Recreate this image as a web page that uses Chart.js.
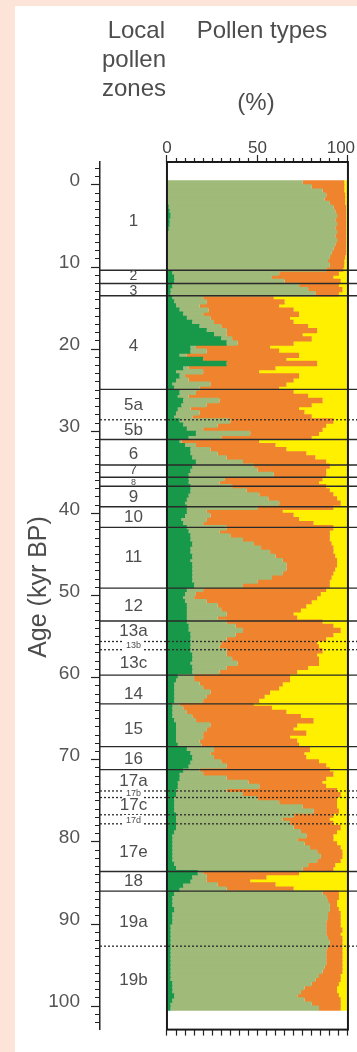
<!DOCTYPE html>
<html>
<head>
<meta charset="utf-8">
<script src="https://cdn.jsdelivr.net/npm/chart.js"></script>
<style>
  html, body { margin: 0; padding: 0; }
  body { background: #fce4d9; width: 357px; height: 1052px; position: relative; overflow: hidden; }
  #panel { position: absolute; left: 15px; top: 6px; right: 0; bottom: 0; background: #fff; }
  #chart { position: absolute; left: 0; top: 0; }
</style>
</head>
<body>
<div id="panel"></div>
<canvas id="chart" width="357" height="1052"></canvas>
<script>
// sample ages (kyr BP), one every 0.5 kyr
const ages = [
  0.25, 0.75, 1.25, 1.75, 2.25, 2.75, 3.25, 3.75, 4.25, 4.75,
  5.25, 5.75, 6.25, 6.75, 7.25, 7.75, 8.25, 8.75, 9.25, 9.75,
  10.25, 10.75, 11.25, 11.75, 12.25, 12.75, 13.25, 13.75, 14.25, 14.75,
  15.25, 15.75, 16.25, 16.75, 17.25, 17.75, 18.25, 18.75, 19.25, 19.75,
  20.25, 20.75, 21.25, 21.75, 22.25, 22.75, 23.25, 23.75, 24.25, 24.75,
  25.25, 25.75, 26.25, 26.75, 27.25, 27.75, 28.25, 28.75, 29.25, 29.75,
  30.25, 30.75, 31.25, 31.75, 32.25, 32.75, 33.25, 33.75, 34.25, 34.75,
  35.25, 35.75, 36.25, 36.75, 37.25, 37.75, 38.25, 38.75, 39.25, 39.75,
  40.25, 40.75, 41.25, 41.75, 42.25, 42.75, 43.25, 43.75, 44.25, 44.75,
  45.25, 45.75, 46.25, 46.75, 47.25, 47.75, 48.25, 48.75, 49.25, 49.75,
  50.25, 50.75, 51.25, 51.75, 52.25, 52.75, 53.25, 53.75, 54.25, 54.75,
  55.25, 55.75, 56.25, 56.75, 57.25, 57.75, 58.25, 58.75, 59.25, 59.75,
  60.25, 60.75, 61.25, 61.75, 62.25, 62.75, 63.25, 63.75, 64.25, 64.75,
  65.25, 65.75, 66.25, 66.75, 67.25, 67.75, 68.25, 68.75, 69.25, 69.75,
  70.25, 70.75, 71.25, 71.75, 72.25, 72.75, 73.25, 73.75, 74.25, 74.75,
  75.25, 75.75, 76.25, 76.75, 77.25, 77.75, 78.25, 78.75, 79.25, 79.75,
  80.25, 80.75, 81.25, 81.75, 82.25, 82.75, 83.25, 83.75, 84.25, 84.75,
  85.25, 85.75, 86.25, 86.75, 87.25, 87.75, 88.25, 88.75, 89.25, 89.75,
  90.25, 90.75, 91.25, 91.75, 92.25, 92.75, 93.25, 93.75, 94.25, 94.75,
  95.25, 95.75, 96.25, 96.75, 97.25, 97.75, 98.25, 98.75, 99.25, 99.75,
  100.25, 100.75
];

// cumulative pollen percentages: right edge of each coloured band
const darkEdge = [
  0.5, 0.5, 0.5, 0.5, 0.5, 0.5, 1, 1.5, 2, 1.5,
  1.5, 1, 0.5, 0.5, 0.5, 0.5, 0.5, 0.5, 0.5, 0.5,
  0.5, 0.5, 3, 4, 4, 3, 2, 2, 3, 4,
  5, 7, 9, 11, 14, 18, 22, 26, 30, 33,
  13, 13, 7, 20, 33, 9, 5, 7, 5, 3,
  4, 7, 6, 9, 8, 6, 5, 4, 7, 9,
  11, 16, 12, 7, 10, 13, 13, 14, 16, 14,
  13, 12, 12, 12, 13, 13, 12, 11, 10, 11,
  11, 10, 8, 9, 11, 12, 13, 13, 14, 13,
  13, 14, 13, 14, 14, 14, 14, 14, 15, 11,
  10, 9, 10, 11, 11, 11, 11, 11, 12, 12,
  13, 13, 13, 13, 13, 14, 14, 13, 14, 14,
  6, 5, 4, 4, 4, 4, 4, 3, 3, 3,
  3, 4, 5, 5, 5, 5, 5, 6, 11, 13,
  14, 13, 12, 9, 7, 7, 6, 6, 5, 5,
  4, 4, 4, 4, 5, 5, 5, 5, 4, 3,
  3, 3, 3, 3, 3, 3, 4, 5, 17, 14,
  13, 9, 7, 4, 3, 3, 3, 4, 3, 3,
  3, 2, 2, 2, 2, 2, 2, 2, 2, 2,
  2, 2, 2, 2, 2, 3, 3, 3, 4, 3,
  2, 2
];
const sageEdge = [
  75, 80, 86, 88, 87, 90, 92, 93, 94, 93,
  94, 93, 94, 93, 94, 93, 92, 91, 90, 89,
  90, 88, 62, 58, 65, 73, 78, 82, 20, 22,
  18, 23, 20, 24, 26, 30, 33, 33, 36, 39,
  16, 22, 11, 20, 33, 12, 20, 10, 12, 24,
  18, 16, 12, 29, 22, 13, 18, 14, 35, 28,
  20, 46, 30, 8, 16, 24, 28, 33, 42, 48,
  50, 59, 32, 29, 36, 44, 51, 56, 62, 50,
  22, 24, 22, 20, 33, 29, 35, 42, 48, 52,
  57, 60, 64, 66, 66, 64, 58, 50, 42, 20,
  16, 15, 22, 28, 30, 33, 28, 33, 38, 42,
  38, 33, 30, 29, 33, 33, 36, 39, 33, 29,
  15, 15, 18, 20, 24, 22, 20, 7, 9, 11,
  14, 16, 24, 22, 20, 20, 18, 19, 26, 24,
  26, 30, 33, 18, 20, 33, 45, 51, 33, 42,
  50, 62, 75, 81, 70, 64, 68, 70, 74, 77,
  72, 76, 79, 83, 85, 83, 78, 75, 20, 22,
  22, 28, 33, 86, 88, 89, 90, 90, 89, 89,
  88, 88, 88, 88, 89, 90, 89, 88, 88, 88,
  88, 87, 86, 84, 82, 80, 76, 74, 72, 76,
  80, 84
];
const orangeEdge = [
  98, 98, 98, 98.5, 98.5, 98.5, 99, 99, 99, 99,
  99, 99, 99, 99, 99, 99, 99, 99, 98.5, 98,
  98, 97.5, 95, 92, 96, 95, 97, 95, 59, 65,
  62, 70, 73, 68, 70, 78, 83, 75, 80, 70,
  57, 62, 73, 66, 83, 60, 51, 73, 70, 66,
  62, 70, 78, 86, 80, 73, 76, 80, 92, 88,
  86, 84, 80, 51, 60, 66, 77, 82, 88, 90,
  88, 88, 86, 84, 88, 90, 92, 94, 96, 92,
  64, 70, 73, 81, 92, 90, 90, 90, 91, 92,
  92, 93, 94, 94, 93, 92, 91, 90, 90, 88,
  85, 83, 80, 77, 74, 70, 72, 86, 92, 96,
  92, 88, 83, 84, 86, 83, 84, 84, 78, 72,
  68, 68, 64, 62, 57, 54, 51, 48, 58, 66,
  74, 81, 72, 70, 77, 68, 72, 73, 79, 76,
  77, 84, 88, 90, 92, 88, 86, 88, 94, 96,
  94, 94, 94, 95, 92, 90, 92, 96, 94, 92,
  92, 94, 96, 97, 97, 96, 93, 92, 73, 55,
  46, 60, 70, 95, 95, 94, 94, 95, 96, 96,
  96, 96, 97, 96, 97, 97, 97, 97, 97, 97,
  97, 97, 97, 96, 96, 95, 94, 94, 95, 96,
  96, 96
];

// local pollen zones
const zoneBounds = [10.9, 12.5, 14.0, 25.4, 31.5, 34.6, 36.1, 37.2, 39.7, 42.2,
                    49.6, 53.6, 60.2, 63.7, 68.9, 71.7, 84.1, 86.5];
const subZoneBounds = [29.1, 56.1, 57.1, 74.3, 75.1, 77.2, 78.3, 93.2];
const zoneNames = ['1', '2', '3', '4', '5a', '5b', '6', '7', '8', '9', '10', '11', '12',
                   '13a', '13b', '13c', '14', '15', '16', '17a', '17b', '17c', '17d', '17e',
                   '18', '19a', '19b'];
const zoneMids = [4.9, 11.6, 13.4, 20.2, 27.4, 30.4, 33.3, 35.3, 36.7, 38.5, 41.0, 45.8, 51.8,
                  54.8, 56.6, 58.8, 62.5, 66.8, 70.4, 73.1, 74.6, 76.1, 77.9, 81.8,
                  85.3, 90.3, 97.4];

const FONT = '"Liberation Sans", Arial, Helvetica, sans-serif';
const smallZone = { '2': 14, '3': 14, '7': 13, '8': 9, '13b': 9, '17b': 9, '17d': 9 };
const boxedZone = ['13b', '17b', '17d'];

function band(lo, hi) {
  return ages.map((a, i) => ({ y: a, x: [lo[i], hi[i]] }));
}
const hundred = ages.map(() => 100);
const zero = ages.map(() => 0);

const inPanel = c => c.tick && c.tick.value >= 0 && c.tick.value <= 100;

const zonePlugin = {
  id: 'zones',
  afterDatasetsDraw(chart) {
    const { ctx, chartArea: a, scales: { x, y } } = chart;
    ctx.save();
    ctx.strokeStyle = '#2a2a2a';
    ctx.lineWidth = 1.4;
    zoneBounds.forEach(v => {
      const py = y.getPixelForValue(v);
      ctx.beginPath(); ctx.moveTo(a.left, py); ctx.lineTo(a.right, py); ctx.stroke();
    });
    ctx.setLineDash([2, 2]);
    ctx.lineWidth = 1.3;
    subZoneBounds.forEach(v => {
      const py = y.getPixelForValue(v);
      ctx.beginPath(); ctx.moveTo(a.left, py); ctx.lineTo(a.right, py); ctx.stroke();
    });
    ctx.setLineDash([]);

    // frame round the pollen diagram
    const x0 = x.getPixelForValue(0), x1 = x.getPixelForValue(100);
    ctx.strokeStyle = '#1a1a1a';
    ctx.lineWidth = 2;
    ctx.strokeRect(x0, a.top, x1 - x0, a.bottom - a.top);

    // zone labels
    const cx = (a.left + x0) / 2;
    ctx.textAlign = 'center';
    ctx.textBaseline = 'middle';
    zoneNames.forEach((n, i) => {
      const py = y.getPixelForValue(zoneMids[i]);
      const size = smallZone[n] || 17;
      ctx.font = size + 'px ' + FONT;
      if (boxedZone.includes(n)) {
        const w = ctx.measureText(n).width;
        ctx.fillStyle = '#fff';
        ctx.fillRect(cx - w / 2 - 2, py - size / 2 - 1, w + 4, size + 2);
      }
      ctx.fillStyle = '#4d4d4d';
      ctx.fillText(n, cx, py);
    });
    ctx.restore();
  },
  afterDraw(chart) {
    const { ctx } = chart;
    ctx.save();
    ctx.fillStyle = '#4d4d4d';
    ctx.textBaseline = 'alphabetic';
    ctx.font = '24px ' + FONT;
    ctx.textAlign = 'right';
    ctx.fillText('Local', 165, 38);
    ctx.fillText('pollen', 166, 67);
    ctx.fillText('zones', 166, 96);
    ctx.textAlign = 'center';
    ctx.fillText('Pollen types', 262, 38);
    ctx.fillText('(%)', 256, 110);

    ctx.translate(39, 587);
    ctx.rotate(-Math.PI / 2);
    ctx.font = '25px ' + FONT;
    ctx.textBaseline = 'middle';
    ctx.fillText('Age (kyr BP)', 0, 0);
    ctx.restore();
  }
};

new Chart(document.getElementById('chart'), {
  type: 'bar',
  data: {
    datasets: [
      { label: 'dark green', data: band(zero, darkEdge), backgroundColor: '#18994a' },
      { label: 'light green', data: band(darkEdge, sageEdge), backgroundColor: '#9fba79' },
      { label: 'orange', data: band(sageEdge, orangeEdge), backgroundColor: '#f0842e' },
      { label: 'yellow', data: band(orangeEdge, hundred), backgroundColor: '#fff000' }
    ]
  },
  options: {
    indexAxis: 'y',
    responsive: false,
    animation: false,
    devicePixelRatio: 1,
    layout: { padding: { top: 132, left: 0, right: 0, bottom: 0 } },
    datasets: {
      bar: { grouped: false, categoryPercentage: 1, barPercentage: 1.3, borderWidth: 0, inflateAmount: 0 }
    },
    plugins: { legend: { display: false }, tooltip: { enabled: false } },
    scales: {
      y: {
        type: 'linear', reverse: true, min: -1.78, max: 102.85,
        afterFit: s => { s.width = 100; },
        border: { display: true, color: '#222', width: 1.5 },
        grid: {
          drawOnChartArea: false, tickLength: 9, tickWidth: 1.2, tickColor: '#222',
          tickBorderDash: c => (c.tick && c.tick.value % 10 === 0) ? [] : [0, 4, 5, 100]
        },
        ticks: {
          stepSize: 1, autoSkip: false, includeBounds: false, maxRotation: 0, padding: 11,
          color: '#555', font: { size: 19, family: FONT },
          callback: v => (v % 10 === 0 && v >= 0 && v <= 100) ? String(v) : ''
        }
      },
      x: {
        type: 'linear', position: 'top', min: -37, max: 105,
        afterFit: s => { s.height = 30; },
        border: { display: false },
        grid: {
          drawOnChartArea: false, tickLength: 7, tickWidth: 1.2,
          tickColor: c => inPanel(c) ? '#222' : 'rgba(0,0,0,0)',
          tickBorderDash: c => (c.tick && c.tick.value % 50 === 0) ? [] : [0, 3, 4, 100]
        },
        ticks: {
          stepSize: 5, autoSkip: false, includeBounds: false, maxRotation: 0, padding: -2,
          color: '#444', font: { size: 17, family: FONT, lineHeight: 1 },
          callback: v => v === 0 ? '0' : v === 50 ? '50' : v === 100 ? '100   ' : ''
        }
      },
      xb: {
        type: 'linear', position: 'bottom', axis: 'x', min: -37, max: 105,
        afterFit: s => { s.height = 9; },
        border: { display: false },
        grid: {
          drawOnChartArea: false, tickLength: 6, tickWidth: 1.2,
          tickColor: c => inPanel(c) ? '#222' : 'rgba(0,0,0,0)'
        },
        ticks: { stepSize: 5, autoSkip: false, includeBounds: false, maxRotation: 0, display: false }
      }
    }
  },
  plugins: [zonePlugin]
});
</script>
</body>
</html>
